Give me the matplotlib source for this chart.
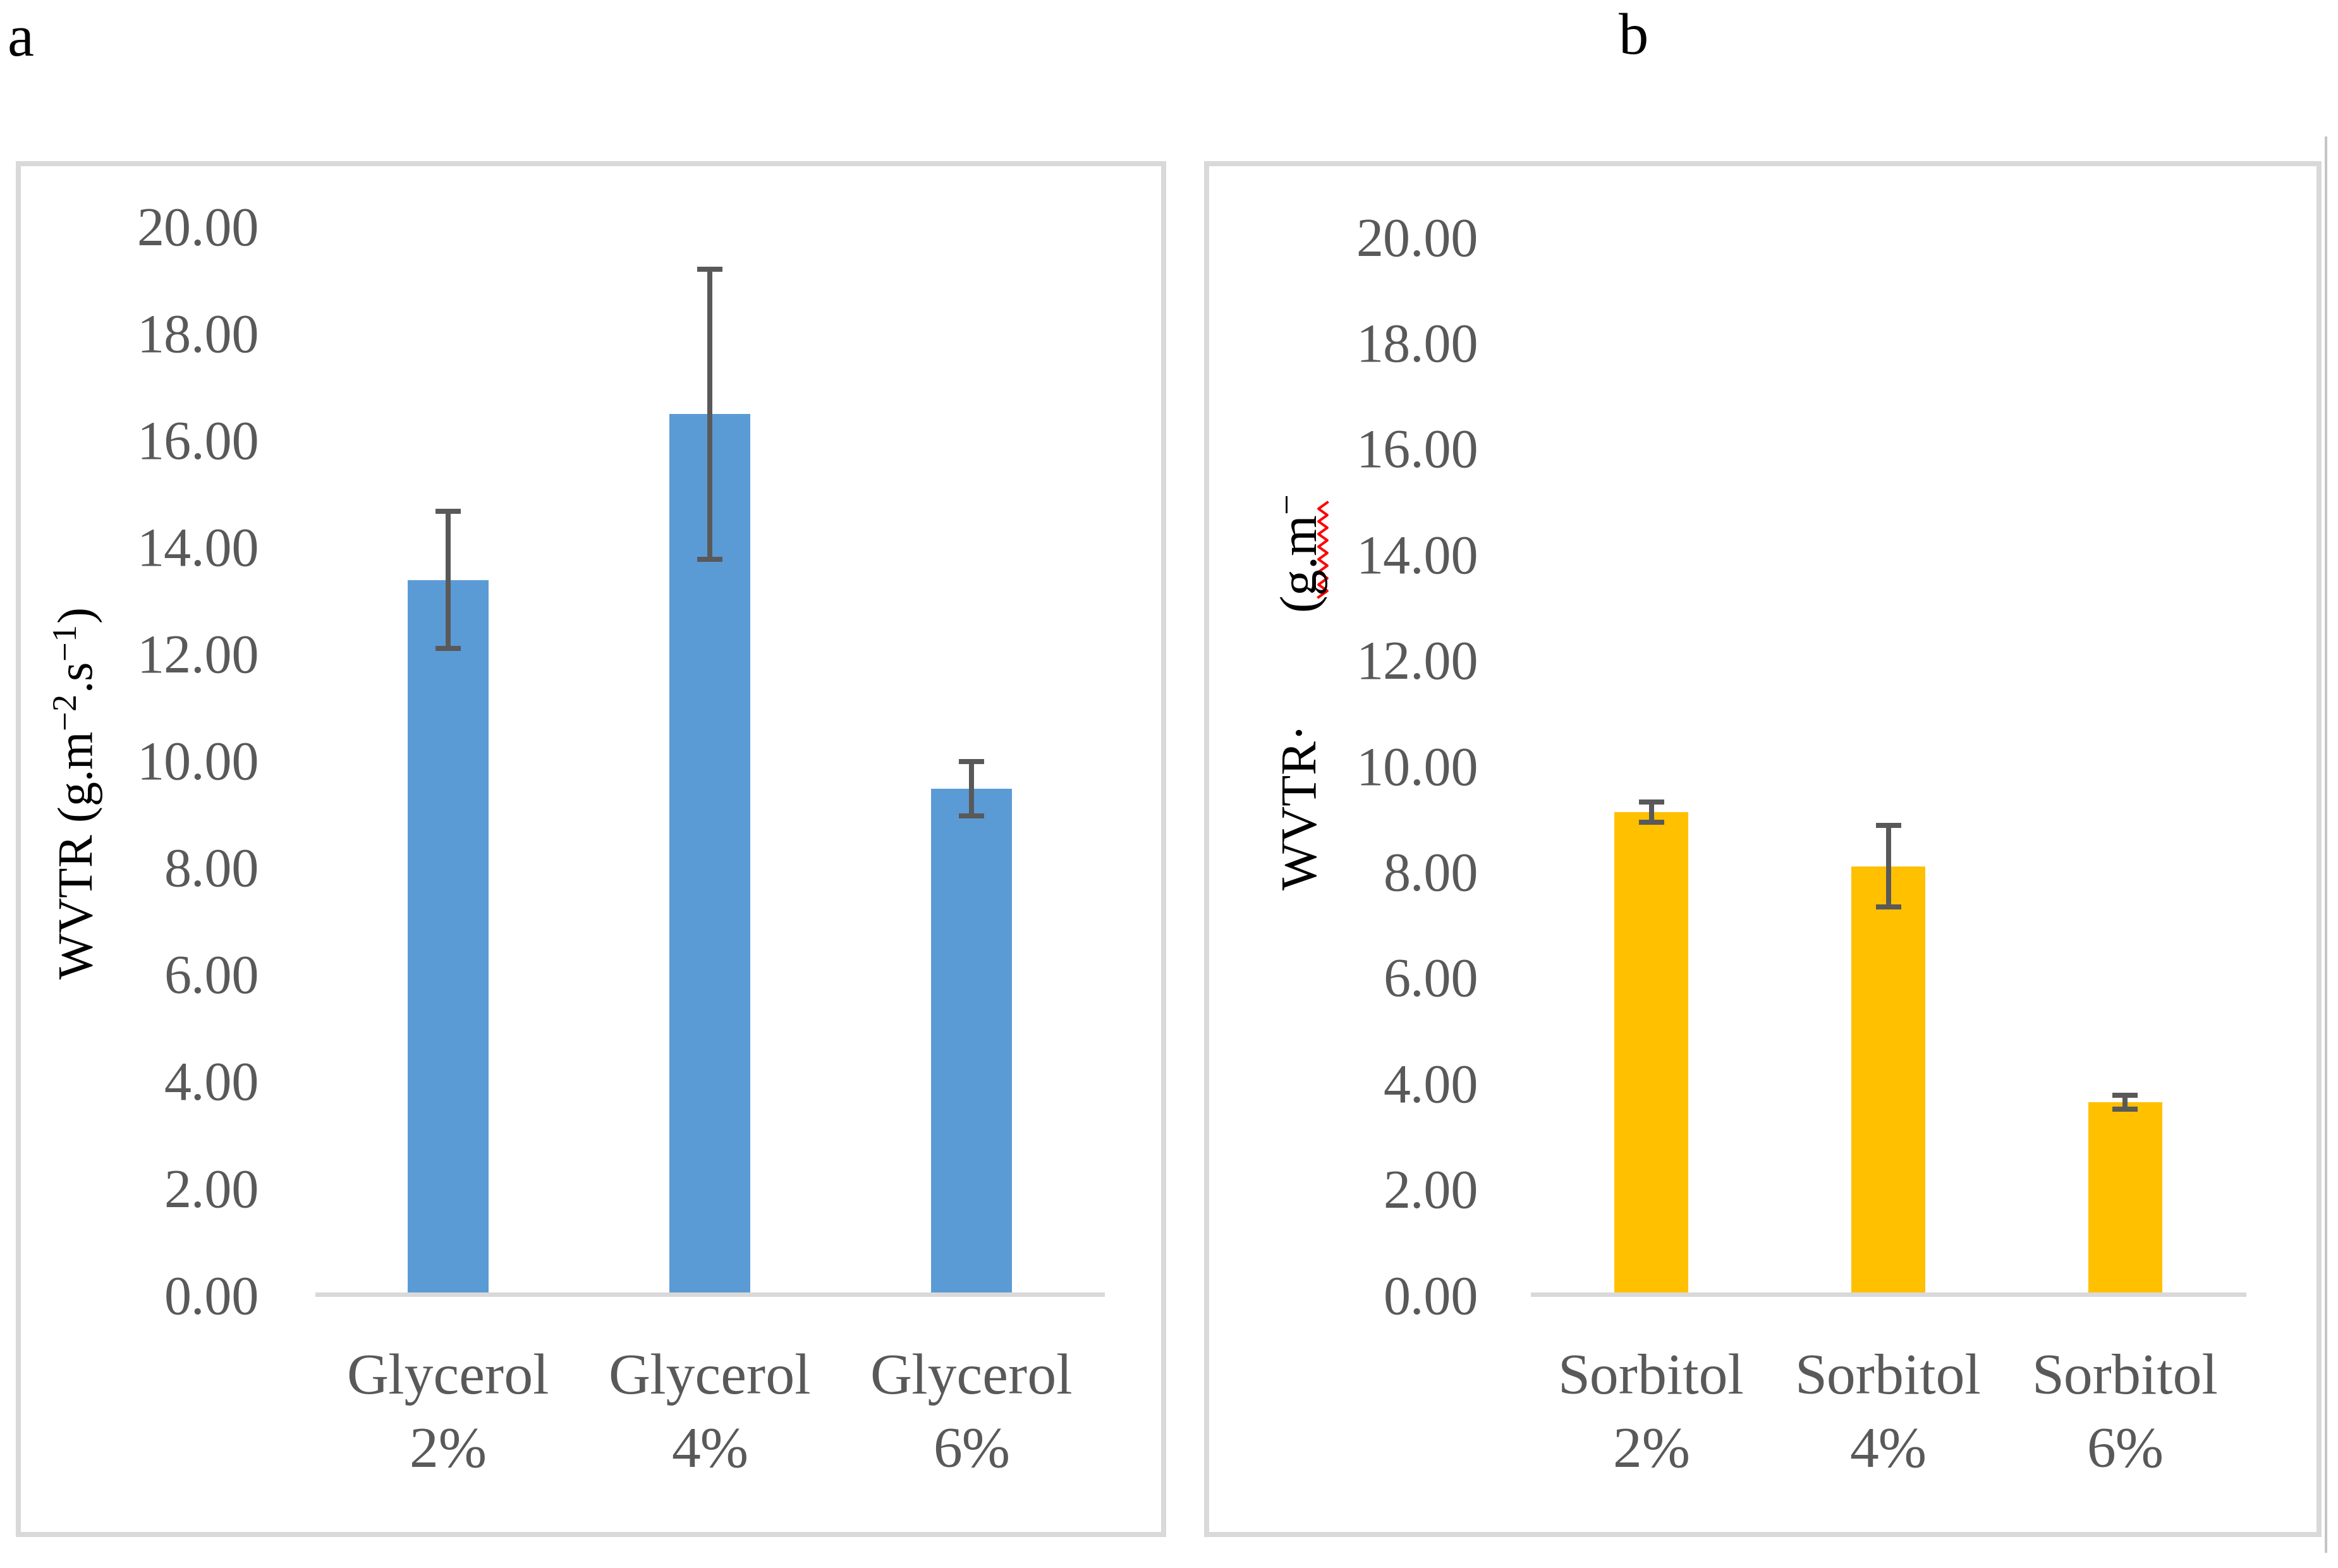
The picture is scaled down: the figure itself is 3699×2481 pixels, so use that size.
import numpy as np
import matplotlib
matplotlib.use("Agg")
import matplotlib.pyplot as plt
from matplotlib.patches import Rectangle
from matplotlib.lines import Line2D

plt.rcParams["font.family"] = ["Liberation Serif", "DejaVu Serif"]
plt.rcParams["mathtext.fontset"] = "custom"
plt.rcParams["mathtext.rm"] = "Liberation Serif"
plt.rcParams["mathtext.it"] = "Liberation Serif:italic"

# data
glycerol_labels = ["Glycerol\n2%", "Glycerol\n4%", "Glycerol\n6%"]
glycerol_wvtr = [13.37, 16.47, 9.46]
glycerol_err = [1.28, 2.71, 0.51]

sorbitol_labels = ["Sorbitol\n2%", "Sorbitol\n4%", "Sorbitol\n6%"]
sorbitol_wvtr = [9.12, 8.09, 3.63]
sorbitol_err = [0.19, 0.77, 0.13]

y_ticks = np.arange(0, 21, 2)

W, H = 3699, 2481
DPI = 100
PT = 72 / DPI  # points per pixel

TICK_GREY = "#595959"
LINE_GREY = "#d9d9d9"


def fx(x):
    return x / W


def fy(y):
    return 1 - y / H


def draw_panel(ax, labels, values, errs, color, ytick_pad):
    x = np.arange(len(values))
    ax.bar(x, values, width=0.31, color=color, zorder=2)
    ax.errorbar(x, values, yerr=errs, fmt="none", ecolor=TICK_GREY,
                elinewidth=8 * PT, capsize=20 * PT, capthick=8 * PT, zorder=3)
    ax.set_xlim(-0.5, len(values) - 0.5)
    ax.set_ylim(0, 20)
    ax.set_yticks(y_ticks)
    ax.set_yticklabels([f"{v:.2f}" for v in y_ticks])
    ax.set_xticks(x)
    ax.set_xticklabels(labels, fontsize=66, color=TICK_GREY, linespacing=1.55)
    ax.tick_params(axis="y", length=0, labelsize=62, labelcolor=TICK_GREY, pad=ytick_pad)
    ax.tick_params(axis="x", length=0, pad=67)
    for side in ["top", "left", "right"]:
        ax.spines[side].set_visible(False)
    ax.spines["bottom"].set_color(LINE_GREY)
    ax.spines["bottom"].set_linewidth(7 * PT)
    ax.set_facecolor("none")


fig = plt.figure(figsize=(W / DPI, H / DPI), dpi=DPI)

# panel frames
for x0, x1 in [(29, 1841), (1909, 3669)]:
    fig.patches.append(Rectangle((fx(x0), fy(2428)), fx(x1 - x0), (2428 - 259) / H,
                                 transform=fig.transFigure, fill=False,
                                 edgecolor=LINE_GREY, linewidth=8 * PT))
fig.lines.append(Line2D([fx(3680), fx(3680)], [fy(218), fy(2455)],
                        transform=fig.transFigure, color="#c4c4c4", linewidth=4 * PT))

ax_a = fig.add_axes([fx(502), fy(2048), fx(1744 - 502), (2048 - 357) / H])
draw_panel(ax_a, glycerol_labels, glycerol_wvtr, glycerol_err, "#5b9bd5", 92 * PT)

ax_b = fig.add_axes([fx(2425), fy(2048), fx(3550 - 2425), (2048 - 374) / H])
draw_panel(ax_b, sorbitol_labels, sorbitol_wvtr, sorbitol_err, "#ffc000", 86 * PT)

# axis titles
fig.text(fx(147), fy(1550), r"WVTR (g.m$^{-2}$.s$^{-1}$)", rotation=90,
         rotation_mode="anchor", ha="left", va="baseline", fontsize=56, color="black")
fig.text(fx(2083), fy(1408), "WVTR\u00b7", rotation=90,
         rotation_mode="anchor", ha="left", va="baseline", fontsize=58, color="black")
fig.text(fx(2083), fy(970), "(g.m$^{-}$", rotation=90,
         rotation_mode="anchor", ha="left", va="baseline", fontsize=60, color="black")

# red spell-check squiggle under "g.m"
sq_y = np.arange(945, 790, -10)
sq_x = np.where(np.arange(len(sq_y)) % 2 == 0, 2086, 2100)
fig.lines.append(Line2D(fx(sq_x), fy(sq_y), transform=fig.transFigure,
                        color="#ff0000", linewidth=4 * PT))

# panel letters
fig.text(fx(12), fy(88), "a", fontsize=68, ha="left", va="baseline")
fig.text(fx(2561), fy(85), "b", fontsize=68, ha="left", va="baseline")

fig.savefig("out.png", dpi=DPI, facecolor="white")
